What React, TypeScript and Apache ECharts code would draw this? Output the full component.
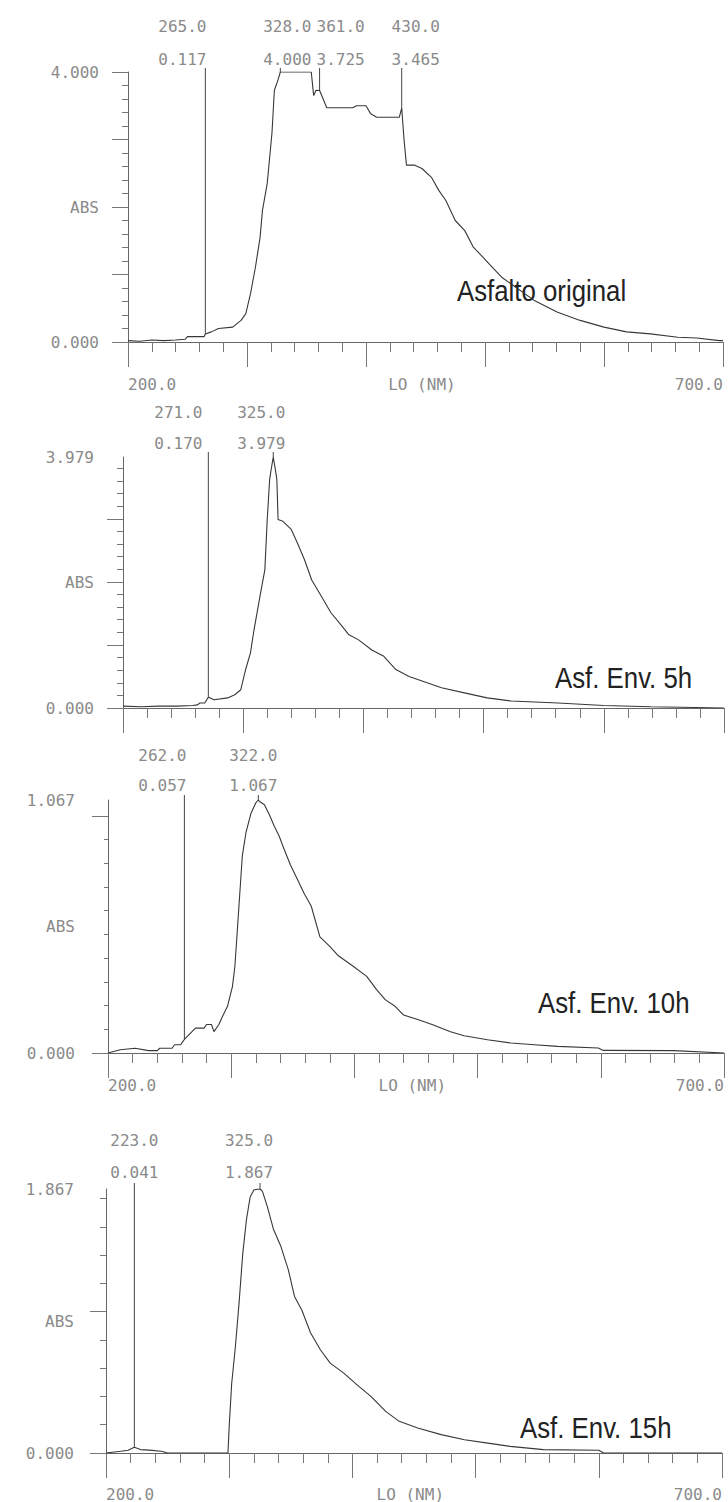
import React, { useEffect, useRef } from "react";
import * as echarts from "echarts";

// ---------- data (wavelength nm / absorbance) ----------
const p1Nm = [200,210,220,230,240,248,250,264,265,270,276,288,295,299,303,307,311,313,317,321,323,326,328,354,356,358,361,364,367,389,392,400,404,409,428,430,432,434,441,447,455,461,467,475,483,490,498,506,514,522,541,561,580,600,619,639,662,678,697,700];
const p1Abs = [0.02,0.01,0.03,0.02,0.03,0.04,0.08,0.08,0.117,0.15,0.2,0.22,0.32,0.42,0.72,1.1,1.55,1.95,2.35,3.1,3.73,3.88,4.0,4.0,3.65,3.73,3.725,3.6,3.47,3.47,3.5,3.5,3.38,3.33,3.33,3.465,2.99,2.62,2.62,2.57,2.44,2.25,2.1,1.8,1.65,1.41,1.26,1.11,0.96,0.86,0.62,0.44,0.32,0.22,0.15,0.12,0.07,0.06,0.02,0.02];

const p2Nm = [200,215,230,245,258,262,264,268,271,276,287,293,298,300,302,306,309,312,315,318,320,322,323,325,327,328,329,333,340,345,351,357,365,373,380,388,396,407,417,427,438,450,465,484,503,523,562,600,639,700];
const p2Abs = [0.03,0.02,0.03,0.03,0.04,0.05,0.08,0.08,0.17,0.13,0.16,0.21,0.29,0.45,0.61,0.87,1.24,1.56,1.88,2.19,2.99,3.62,3.75,3.979,3.75,3.62,2.99,2.96,2.83,2.62,2.35,2.03,1.77,1.51,1.35,1.16,1.08,0.92,0.82,0.61,0.5,0.42,0.32,0.24,0.16,0.11,0.08,0.04,0.02,0.0];

const p3Nm = [200,210,222,233,240,242,252,254,259,261,262,267,271,278,280,284,286,290,293,297,301,303,305,307,309,312,316,320,322,323,327,331,335,339,342,348,354,359,365,372,380,387,399,410,418,425,433,440,452,463,478,489,508,527,546,565,598,602,659,700];
const p3Abs = [0.0,0.014,0.02,0.01,0.01,0.02,0.02,0.035,0.035,0.05,0.057,0.084,0.105,0.105,0.12,0.12,0.09,0.12,0.155,0.197,0.28,0.366,0.52,0.675,0.83,0.93,1.01,1.055,1.067,1.061,1.047,1.005,0.956,0.914,0.872,0.794,0.73,0.675,0.619,0.49,0.45,0.41,0.366,0.323,0.267,0.225,0.197,0.16,0.14,0.12,0.09,0.073,0.056,0.042,0.035,0.028,0.021,0.011,0.01,0.0];

const p4Nm = [200,212,218,223,228,235,245,250,299,300,302,305,308,311,314,317,320,323,325,327,331,336,342,348,353,359,366,374,382,393,404,415,427,438,453,472,491,510,528,555,600,604,700];
const p4Abs = [0.0,0.012,0.02,0.041,0.024,0.02,0.012,0.0,0.0,0.19,0.49,0.75,1.06,1.41,1.65,1.81,1.86,1.866,1.867,1.85,1.74,1.58,1.46,1.295,1.107,1.01,0.85,0.73,0.636,0.565,0.48,0.4,0.294,0.224,0.177,0.13,0.094,0.07,0.047,0.024,0.019,0.0,0.0];

// peak markers
const p1MarkNm = [265, 328, 361, 430];
const p1MarkAbs = [0.117, 4.0, 3.725, 3.465];
const p2MarkNm = [271, 325];
const p2MarkAbs = [0.17, 3.979];
const p3MarkNm = [262, 322];
const p3MarkAbs = [0.057, 1.067];
const p4MarkNm = [223, 325];
const p4MarkAbs = [0.041, 1.867];

// full scale of each ABS axis
const yMaxes = [4.0, 3.979, 1.067, 1.867];
const titles = ["Asfalto original", "Asf. Env. 5h", "Asf. Env. 10h", "Asf. Env. 15h"];
const xTickLabels = ["200.0", "LO (NM)", "700.0"];
const xLabelAt = [200, 447, 700];

// ---------- layout ----------
const layout = [
  { left: 128, top: 72, width: 595, height: 270, xLabels: true, xMargin: 34, yMargin: 29, lineTop: 4, valDy: 13, nmDy: 46, dx: [-23, 7, 21, 14], tx: 457, ty: 291, minorStep: 0.2 },
  { left: 123, top: 457, width: 601, height: 251, xLabels: false, xMargin: 34, yMargin: 29, lineTop: 5, valDy: 14, nmDy: 45, dx: [-30, -12], tx: 555, ty: 678, minorStep: 0.2 },
  { left: 108, top: 800, width: 616, height: 253, xLabels: true, xMargin: 24, yMargin: 33, lineTop: 5, valDy: 15, nmDy: 45, dx: [-22, -5], tx: 538, ty: 1003, minorStep: 0.1 },
  { left: 106, top: 1189, width: 616, height: 264, xLabels: true, xMargin: 33, yMargin: 32, lineTop: 6, valDy: 17, nmDy: 49, dx: [0, -11], tx: 520, ty: 1428, minorStep: 0.2 },
];

const MONO = '"DejaVu Sans Mono", "Liberation Mono", monospace';
const LABEL_COLOR = "#8a8a8a";
const AXIS_COLOR = "#666";
const TRACE_COLOR = "#383838";

function pairs(xs: number[], ys: number[]) {
  return xs.map((x, i) => [x, ys[i]]);
}

export default function App() {
  const ref = useRef<HTMLDivElement>(null);
  useEffect(() => {
    if (!ref.current) return;
    const chart = echarts.init(ref.current, undefined, { renderer: "svg" });
    const spectra = [pairs(p1Nm, p1Abs), pairs(p2Nm, p2Abs), pairs(p3Nm, p3Abs), pairs(p4Nm, p4Abs)];
    const marks = [pairs(p1MarkNm, p1MarkAbs), pairs(p2MarkNm, p2MarkAbs), pairs(p3MarkNm, p3MarkAbs), pairs(p4MarkNm, p4MarkAbs)];

    const grid: any[] = [];
    const xAxis: any[] = [];
    const yAxis: any[] = [];
    const series: any[] = [];
    const graphic: any[] = [];

    layout.forEach((L, i) => {
      const max = yMaxes[i];
      grid.push({ left: L.left, top: L.top, width: L.width, height: L.height });
      xAxis.push({
        gridIndex: i,
        type: "value",
        min: 200,
        max: 700,
        interval: 100,
        axisLine: { show: true, onZero: false, lineStyle: { color: AXIS_COLOR, width: 1 } },
        axisTick: { show: true, length: 25, lineStyle: { color: "#777" } },
        minorTick: { show: true, splitNumber: 5, length: 10, lineStyle: { color: "#777" } },
        splitLine: { show: false },
        minorSplitLine: { show: false },
        axisLabel: {
          show: L.xLabels,
          customValues: xLabelAt,
          formatter: (v: number) => xTickLabels[xLabelAt.indexOf(v)] ?? "",
          alignMinLabel: "left",
          alignMaxLabel: "right",
          margin: L.xMargin,
          color: LABEL_COLOR,
          fontFamily: MONO,
          fontSize: 16,
        },
      });
      const majors: number[] = [];
      for (let v = 0; v <= max + 1e-9; v += 1) majors.push(v);
      const minors: number[] = [];
      const n = Math.floor(max / L.minorStep + 1e-9);
      for (let k = 1; k <= n; k++) {
        const v = +(k * L.minorStep).toFixed(4);
        if (Math.abs(v - Math.round(v)) > 1e-6) minors.push(v);
      }
      yAxis.push({
        gridIndex: i,
        type: "value",
        min: 0,
        max,
        position: "left",
        axisLine: { show: true, onZero: false, lineStyle: { color: AXIS_COLOR, width: 1 } },
        axisTick: { show: true, customValues: majors, length: 16, lineStyle: { color: "#777" } },
        splitLine: { show: false },
        axisLabel: {
          customValues: [0, max / 2, max],
          formatter: (v: number) => (v === 0 ? "0.000" : Math.abs(v - max) < 1e-9 ? max.toFixed(3) : "ABS"),
          margin: L.yMargin,
          color: LABEL_COLOR,
          fontFamily: MONO,
          fontSize: 16,
        },
      });
      yAxis.push({
        gridIndex: i,
        type: "value",
        min: 0,
        max,
        position: "left",
        axisLine: { show: false },
        axisTick: { show: true, customValues: minors, length: L.minorStep < 0.15 ? 4 : 6, lineStyle: { color: "#777" } },
        splitLine: { show: false },
        axisLabel: { show: false },
      });
      const yIdx = i * 2;
      series.push({
        type: "line",
        xAxisIndex: i,
        yAxisIndex: yIdx,
        data: spectra[i],
        showSymbol: false,
        silent: true,
        lineStyle: { color: TRACE_COLOR, width: 1.1 },
      });
      series.push({
        type: "custom",
        xAxisIndex: i,
        yAxisIndex: yIdx,
        clip: false,
        silent: true,
        data: marks[i],
        renderItem: (params: any, api: any) => {
          const nm = api.value(0);
          const v = api.value(1);
          const p = api.coord([nm, v]);
          const topY = api.coord([nm, max])[1];
          const dx = L.dx[params.dataIndex] ?? 0;
          const font = `16px ${MONO}`;
          return {
            type: "group",
            children: [
              { type: "line", shape: { x1: p[0], y1: p[1], x2: p[0], y2: topY - L.lineTop }, style: { stroke: "#444", lineWidth: 1 } },
              { type: "text", x: p[0] + dx, y: topY - L.valDy, style: { text: v.toFixed(3), fill: LABEL_COLOR, font, align: "center", verticalAlign: "middle" } },
              { type: "text", x: p[0] + dx, y: topY - L.nmDy, style: { text: nm.toFixed(1), fill: LABEL_COLOR, font, align: "center", verticalAlign: "middle" } },
            ],
          };
        },
      });
      graphic.push({
        type: "text",
        x: L.tx,
        y: L.ty,
        scaleX: 0.86,
        style: {
          text: titles[i],
          fill: "#222",
          font: '30px "Liberation Sans", Arial, sans-serif',
          align: "left",
          verticalAlign: "middle",
        },
      });
    });

    chart.setOption({
      animation: false,
      backgroundColor: "#ffffff",
      grid,
      xAxis,
      yAxis,
      series,
      graphic,
    });
    return () => chart.dispose();
  }, []);
  return <div ref={ref} style={{ position: "absolute", left: 0, top: 0, width: 728, height: 1502, background: "#fff" }} />;
}
